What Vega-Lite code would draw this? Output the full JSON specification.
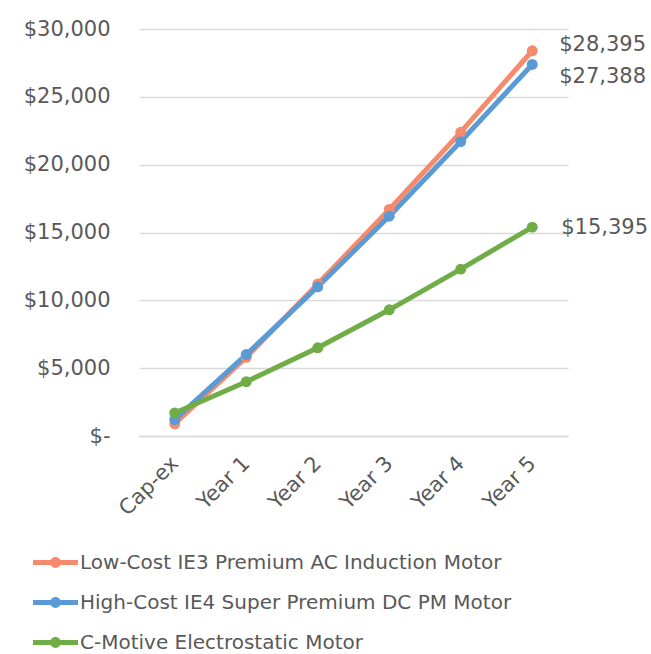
{
  "$schema": "https://vega.github.io/schema/vega-lite/v6.json",
  "width": 429,
  "height": 407,
  "autosize": {"type": "none"},
  "padding": {"left": 139, "top": 29, "right": 83, "bottom": 218},
  "background": "white",
  "config": {
    "view": {"stroke": null},
    "font": "DejaVu Sans",
    "axis": {"labelFont": "DejaVu Sans", "labelColor": "#595959", "labelFontSize": 21, "titleColor": "#595959"},
    "legend": {"labelFont": "DejaVu Sans", "labelColor": "#595959", "labelFontSize": 20, "labelLimit": 600}
  },
  "data": {
    "values": [
      {"period": "Cap-ex", "cost": 900, "motor": "Low-Cost IE3 Premium AC Induction Motor"},
      {"period": "Year 1", "cost": 5800, "motor": "Low-Cost IE3 Premium AC Induction Motor"},
      {"period": "Year 2", "cost": 11200, "motor": "Low-Cost IE3 Premium AC Induction Motor"},
      {"period": "Year 3", "cost": 16700, "motor": "Low-Cost IE3 Premium AC Induction Motor"},
      {"period": "Year 4", "cost": 22400, "motor": "Low-Cost IE3 Premium AC Induction Motor"},
      {"period": "Year 5", "cost": 28395, "motor": "Low-Cost IE3 Premium AC Induction Motor", "label": "$28,395"},
      {"period": "Cap-ex", "cost": 1200, "motor": "High-Cost IE4 Super Premium DC PM Motor"},
      {"period": "Year 1", "cost": 6000, "motor": "High-Cost IE4 Super Premium DC PM Motor"},
      {"period": "Year 2", "cost": 11000, "motor": "High-Cost IE4 Super Premium DC PM Motor"},
      {"period": "Year 3", "cost": 16200, "motor": "High-Cost IE4 Super Premium DC PM Motor"},
      {"period": "Year 4", "cost": 21700, "motor": "High-Cost IE4 Super Premium DC PM Motor"},
      {"period": "Year 5", "cost": 27388, "motor": "High-Cost IE4 Super Premium DC PM Motor", "label": "$27,388"},
      {"period": "Cap-ex", "cost": 1700, "motor": "C-Motive Electrostatic Motor"},
      {"period": "Year 1", "cost": 4000, "motor": "C-Motive Electrostatic Motor"},
      {"period": "Year 2", "cost": 6500, "motor": "C-Motive Electrostatic Motor"},
      {"period": "Year 3", "cost": 9300, "motor": "C-Motive Electrostatic Motor"},
      {"period": "Year 4", "cost": 12300, "motor": "C-Motive Electrostatic Motor"},
      {"period": "Year 5", "cost": 15395, "motor": "C-Motive Electrostatic Motor", "label": "$15,395"}
    ]
  },
  "encoding": {
    "x": {
      "field": "period", "type": "ordinal", "sort": null,
      "scale": {"type": "point", "padding": 0.5},
      "axis": {"title": null, "labelAngle": -45, "labelAlign": "right", "labelBaseline": "middle", "labelPadding": 24, "ticks": false, "domain": true, "domainColor": "#d9d9d9", "domainWidth": 1.5, "grid": false}
    },
    "y": {
      "field": "cost", "type": "quantitative",
      "scale": {"domain": [0, 30000], "nice": false},
      "axis": {"title": null, "values": [0, 5000, 10000, 15000, 20000, 25000, 30000], "labelExpr": "datum.value == 0 ? '$-' : '$' + format(datum.value, ',')", "labelPadding": 29, "ticks": false, "domain": false, "grid": true, "gridColor": "#d9d9d9", "gridWidth": 1.5}
    },
    "color": {
      "field": "motor", "type": "nominal", "sort": null,
      "scale": {
        "domain": ["Low-Cost IE3 Premium AC Induction Motor", "High-Cost IE4 Super Premium DC PM Motor", "C-Motive Electrostatic Motor"],
        "range": ["#F58B6C", "#5B9BD5", "#70AD47"]
      },
      "legend": {
        "title": null, "orient": "none", "legendX": -106, "legendY": 511, "direction": "vertical",
        "symbolType": "M-1,-0.11L1,-0.11L1,0.11L-1,0.11Z M-0.24,0A0.24,0.24 0 1,1 0.24,0A0.24,0.24 0 1,1 -0.24,0Z",
        "symbolSize": 2025, "symbolStrokeWidth": 0, "symbolOpacity": 1, "rowPadding": 7, "labelOffset": 2
      }
    }
  },
  "layer": [
    {"mark": {"type": "line", "strokeWidth": 5, "strokeCap": "round"}},
    {"mark": {"type": "point", "filled": true, "size": 120, "opacity": 1}},
    {
      "transform": [{"filter": "datum.label == '$28,395'"}],
      "mark": {"type": "text", "align": "left", "dx": 27, "dy": -6, "fontSize": 21, "color": "#595959"},
      "encoding": {"text": {"field": "label"}, "color": {"value": "#595959"}}
    },
    {
      "transform": [{"filter": "datum.label == '$27,388'"}],
      "mark": {"type": "text", "align": "left", "dx": 27, "dy": 13, "fontSize": 21, "color": "#595959"},
      "encoding": {"text": {"field": "label"}, "color": {"value": "#595959"}}
    },
    {
      "transform": [{"filter": "datum.label == '$15,395'"}],
      "mark": {"type": "text", "align": "left", "dx": 29, "dy": 1, "fontSize": 21, "color": "#595959"},
      "encoding": {"text": {"field": "label"}, "color": {"value": "#595959"}}
    }
  ]
}
